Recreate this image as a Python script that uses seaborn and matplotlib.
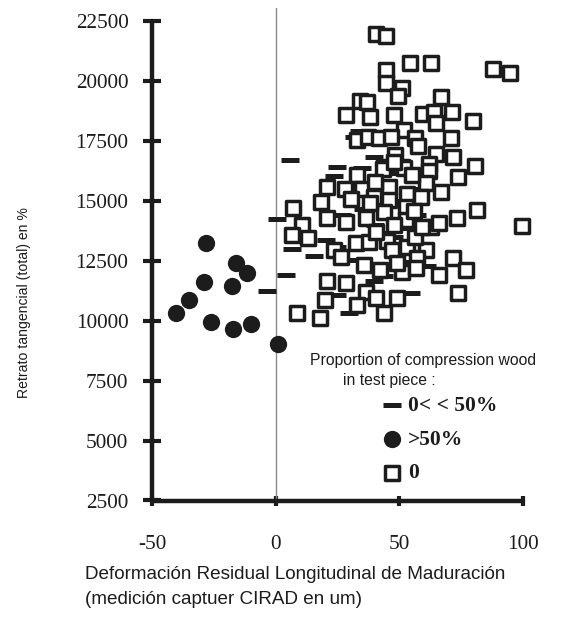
import matplotlib
matplotlib.use("Agg")
import matplotlib.pyplot as plt
import seaborn as sns
import pandas as pd

# ---------------- data ----------------
square_x = [40.4, 44.5, 54.2, 62.7, 87.7, 94.6,
            44.5, 44.5, 50.9, 49.3, 66.7, 34.0, 36.8,
            28.3, 38.0, 47.7, 59.4, 63.9, 71.1, 64.7, 79.6,
            51.7, 56.2, 70.7, 32.7, 37.2, 41.6, 46.5,
            48.1, 64.7, 71.5, 80.4, 43.7, 50.9, 61.8,
            32.7, 43.2, 51.7, 61.8, 73.6,
            20.6, 27.9, 34.8, 45.7, 53.0, 60.6, 66.7,
            18.2, 6.9, 45.7, 52.5, 58.6, 39.6,
            20.6, 28.3, 36.4, 43.7, 52.5, 62.7, 65.9, 73.2, 81.2, 99.4,
            10.5, 6.5, 12.9,
            23.4, 26.3, 32.3, 37.6, 44.9, 46.9, 53.0, 60.6, 71.9, 57.0, 35.6,
            20.6, 28.3, 36.4, 50.9, 56.6, 65.9, 76.8, 73.6,
            19.8, 32.7, 40.4, 48.9, 43.7, 8.5, 17.8,
            47.7, 55.0, 40.0, 56.0, 48.0, 40.5, 56.5, 49.0, 42.0, 59.0, 38.0, 30.5, 57.5]
square_y = [21960, 21875, 20750, 20750, 20500, 20330,
            20455, 19915, 19705, 19370, 19330, 19165, 19120,
            18580, 18495, 18580, 18620, 18705, 18705, 18245, 18330,
            17955, 17620, 17620, 17535, 17660, 17620, 17660,
            16910, 16955, 16830, 16455, 16410, 16410, 16535,
            16075, 16325, 16370, 16245, 15995,
            15575, 15495, 15495, 15575, 15285, 15745, 15370,
            14950, 14700, 15035, 14740, 15160, 15160,
            14285, 14115, 14285, 14535, 14200, 13905, 14075, 14285, 14615, 13950,
            13990, 13575, 13450,
            12950, 12655, 13240, 13280, 13325, 12950, 13075, 12950, 12615, 12615, 12320,
            11655, 11570, 11195, 12030, 12195, 11905, 12115, 11155,
            10860, 10655, 10945, 10945, 10320, 10320, 10110,
            16620, 16100, 15800, 14600, 14000, 13700, 13500, 12400, 12100, 13900, 14900, 15100, 17300]

dash_x = [5.7, 24.7, 34.8, 33.5, 31.5, 23.4, 39.6, 0.4, 20.2, 6.5, 15.4, 4.0,
          -3.6, 39.6, 24.7, 29.5, 54.6, 24.7, 31.5, 42.4, 49.7, 51.7, 45.0, 50.0,
          60.0, 57.0, 40.0, 48.0, 61.0, 44.0, 35.5, 27.0]
dash_y = [16700, 16410, 16370, 17900, 17650, 16035, 16830, 14240, 13365, 12990, 12700, 11905,
          11240, 11655, 11070, 10320, 11155, 13075, 12530, 13655, 13850, 12450, 16150, 15000,
          15500, 14400, 14000, 13500, 12300, 11850, 14650, 14400]

circle_x = [-28.3, -16.2, -11.7, -29.1, -17.8, -35.2, -40.4, -26.3, -17.4, -10.1, 0.8]
circle_y = [13240, 12405, 11990, 11615, 11445, 10865, 10320, 9945, 9655, 9860, 9030]

x_ticks = [-50, 0, 50, 100]
y_ticks = [2500, 5000, 7500, 10000, 12500, 15000, 17500, 20000, 22500]

legend_title = ["Proportion of compression wood", "in test piece :"]
legend_labels = ["0< < 50%", ">50%", "0"]
x_label = "Deformación Residual Longitudinal de Maduración\n(medición captuer CIRAD en um)"
y_label = "Retrato tangencial (total) en %"

# ---------------- style ----------------
sns.set_style("white")
plt.rcParams["axes.unicode_minus"] = False
SERIF = ["Liberation Serif", "DejaVu Serif"]
SANS = ["Liberation Sans", "DejaVu Sans"]
INK = "#1c1c1c"

W, H = 573, 623
fig = plt.figure(figsize=(W / 100, H / 100), dpi=100)
ax = fig.add_axes([152 / W, (H - 500.5) / H, (523 - 152) / W, (500.5 - 8) / H])

ax.axvline(0, color="#8a8a8a", lw=1.0, zorder=1)

d_dash = pd.DataFrame({"x": dash_x, "y": dash_y})
d_sq = pd.DataFrame({"x": square_x, "y": square_y})
d_ci = pd.DataFrame({"x": circle_x, "y": circle_y})

sns.scatterplot(data=d_dash, x="x", y="y", marker="_", s=175, color=INK,
                edgecolor=INK, linewidth=3.6, ax=ax, zorder=2, clip_on=False)
c_dash = ax.collections[-1]
sns.scatterplot(data=d_sq, x="x", y="y", marker="s", s=92, color="white",
                edgecolor=INK, linewidth=2.5, ax=ax, zorder=3, clip_on=False)
c_sq = ax.collections[-1]
sns.scatterplot(data=d_ci, x="x", y="y", marker="o", s=155, color=INK,
                edgecolor=INK, linewidth=0, ax=ax, zorder=4, clip_on=False)
c_ci = ax.collections[-1]

ax.set_xlim(-50, 100)
ax.set_ylim(2500, 23050)
ax.set_xticks(x_ticks)
ax.set_yticks(y_ticks)
ax.set_xticklabels([str(v) for v in x_ticks])
ax.set_yticklabels([str(v) for v in y_ticks])
ax.set_xlabel("")
ax.set_ylabel("")

for s in ["top", "right"]:
    ax.spines[s].set_visible(False)
ax.spines["left"].set_bounds(2500, 22500)
ax.spines["bottom"].set_bounds(-50, 100)
for s in ["left", "bottom"]:
    ax.spines[s].set_linewidth(3.2)
    ax.spines[s].set_color(INK)
    ax.spines[s].set_capstyle("round")

ax.tick_params(axis="y", direction="inout", length=13, width=3, color=INK, pad=10.5,
               labelsize=15.3, labelcolor=INK, left=True)
ax.tick_params(axis="x", direction="inout", length=7, width=3, color=INK, pad=21,
               labelsize=15.3, labelcolor=INK, bottom=True)
for lab in ax.get_xticklabels() + ax.get_yticklabels():
    lab.set_fontfamily(SERIF)

fig.text(24 / W, 1 - 303 / H, y_label, rotation=90, ha="center", va="center",
         fontsize=10.1, family=SANS, color=INK)
fig.text(85 / W, 1 - 566 / H, x_label, ha="left", va="top", fontsize=13.6,
         family=SANS, color=INK, linespacing=1.6)

fig.text(310 / W, 1 - 360 / H, legend_title[0], ha="left", va="center",
         fontsize=11.3, family=SANS, color=INK)
fig.text(343 / W, 1 - 380 / H, legend_title[1], ha="left", va="center",
         fontsize=11.3, family=SANS, color=INK)

leg = ax.legend([c_dash, c_ci, c_sq], legend_labels, loc="upper left",
                bbox_to_anchor=(383 / W, 1 - 396 / H), bbox_transform=fig.transFigure,
                frameon=False, borderpad=0, borderaxespad=0, handlelength=0.8,
                handletextpad=0.35, labelspacing=0.63,
                prop={"family": SERIF, "weight": "bold", "size": 15.5})
for t in leg.get_texts():
    t.set_color(INK)

fig.savefig("out.png", dpi=100)
